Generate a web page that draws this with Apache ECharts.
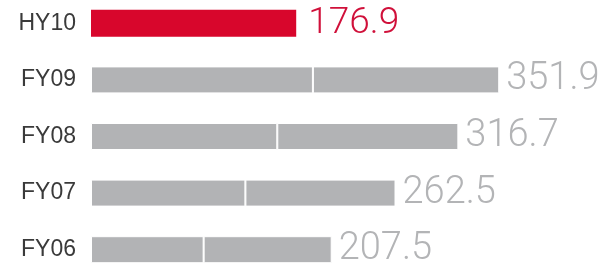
<!DOCTYPE html>
<html>
<head>
    <meta charset="utf-8">
    <title>HY10 vs FY</title>
    <script src="https://cdn.jsdelivr.net/npm/echarts@6/dist/echarts.min.js"></script>
</head>
<body style="margin:0;background:#fff;overflow:hidden">
    <!-- taller than the window and shifted up, so the 5 bands are 56.5px each -->
    <div id="main" style="width:606px;height:283px;margin-top:-5px;"></div>
    <script type="text/javascript">
        // categories and values
        var periods = ['HY10', 'FY09', 'FY08', 'FY07', 'FY06'];
        var totals = [176.9, 351.9, 316.7, 262.5, 207.5];
        var current = [176.9, null, null, null, null];       // red bar
        var firstHalf = [null, 191.3, 160.6, 133.1, 97.1];   // grey, left of the white split
        var secondHalf = [null, 160.6, 156.1, 129.4, 110.4]; // grey, right of the split

        var red = '#d8062c';
        var grey = '#b2b3b5';

        var myChart = echarts.init(document.getElementById('main'));

        myChart.setOption({
            animation: false,
            grid: {
                left: 91,
                right: 51,
                top: 0,
                bottom: 0
            },
            xAxis: {
                type: 'value',
                min: 0,
                max: 400,
                show: false
            },
            yAxis: {
                type: 'category',
                inverse: true,
                data: periods,
                axisLine: { show: false },
                axisTick: { show: false },
                axisLabel: {
                    margin: 15,
                    fontFamily: 'Liberation Sans',
                    fontSize: 23,
                    color: '#3a3a3a'
                }
            },
            series: [{
                    type: 'bar',
                    stack: 'a',
                    barWidth: 27,
                    data: current,
                    itemStyle: { color: red },
                    label: {
                        show: true,
                        position: 'right',
                        distance: 12,
                        fontFamily: 'Roboto',
                        fontWeight: 300,
                        fontSize: 37,
                        color: '#d0103a'
                    }
                },
                {
                    type: 'bar',
                    stack: 'a',
                    barWidth: 27,
                    data: firstHalf,
                    itemStyle: {
                        color: grey,
                        borderColor: '#fff',
                        borderWidth: 1
                    }
                },
                {
                    type: 'bar',
                    stack: 'a',
                    barWidth: 27,
                    data: secondHalf,
                    itemStyle: {
                        color: grey,
                        borderColor: '#fff',
                        borderWidth: 1
                    },
                    label: {
                        show: true,
                        position: 'right',
                        distance: 7,
                        fontFamily: 'Roboto',
                        fontWeight: 300,
                        fontSize: 38,
                        color: '#b3b4b6',
                        formatter: function (p) {
                            return totals[p.dataIndex].toFixed(1);
                        }
                    }
                }
            ]
        });
    </script>
</body>
</html>
